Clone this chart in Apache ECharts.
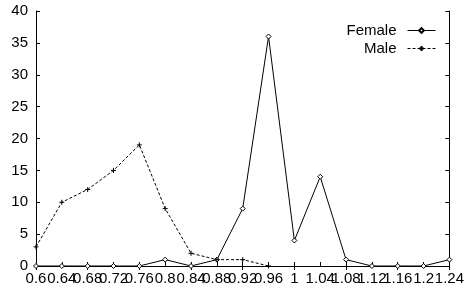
<!DOCTYPE html>
<html lang="en">
<head>
    <meta charset="UTF-8">
    <title>Female / Male</title>
    <script src="https://cdn.jsdelivr.net/npm/echarts@6/dist/echarts.min.js"></script>
    <style>
        html, body { margin: 0; padding: 0; background: #fff; }
        #chart { width: 467px; height: 289px; }
    </style>
</head>
<body>
<div id="chart"></div>
<script>
    // x categories
    const categories = ['0.6', '0.64', '0.68', '0.72', '0.76', '0.8', '0.84', '0.88', '0.92',
        '0.96', '1', '1.04', '1.08', '1.12', '1.16', '1.2', '1.24'];
    // series values
    const female = [0, 0, 0, 0, 0, 1, 0, 1, 9, 36, 4, 14, 1, 0, 0, 0, 1];
    const male = [3, 10, 12, 15, 19, 9, 2, 1, 1, 0];
    const yTicks = [0, 5, 10, 15, 20, 25, 30, 35, 40];

    const font = 'Liberation Sans, Arial, sans-serif';
    const plusPath = 'path://M0,-4L0,4M-4,0L4,0';

    const chart = echarts.init(document.getElementById('chart'));
    chart.setOption({
        animation: false,
        grid: { left: 36, right: 17, top: 11, bottom: 23 },
        legend: {
            right: 31, top: 23, orient: 'vertical', align: 'right', padding: 0,
            itemWidth: 28, itemHeight: 6, itemGap: 3,
            lineStyle: { width: 1 },
            textStyle: { fontFamily: font, fontSize: 15, color: '#000', padding: [0, 6, 0, 0] },
            data: ['Female', 'Male']
        },
        xAxis: [{
            type: 'category', data: categories, boundaryGap: false,
            axisLine: { lineStyle: { color: '#000', width: 1 } },
            axisTick: { inside: true, length: 4, alignWithLabel: true, lineStyle: { color: '#000' } },
            axisLabel: { color: '#000', fontFamily: font, fontSize: 15, margin: 5, interval: 0, hideOverlap: false },
            splitLine: { show: false }
        }, {
            type: 'category', data: categories, boundaryGap: false, position: 'top',
            axisLine: { lineStyle: { color: '#000', width: 1 } },
            axisTick: { inside: true, length: 4, lineStyle: { color: '#000' } },
            axisLabel: { show: false }
        }],
        yAxis: [{
            type: 'value', min: 0, max: 40, interval: 5,
            axisLine: { show: true, lineStyle: { color: '#000', width: 1 } },
            axisTick: { show: true, inside: true, length: 4, lineStyle: { color: '#000' } },
            axisLabel: { color: '#000', fontFamily: font, fontSize: 15, margin: 8,
                formatter: v => yTicks.includes(v) ? String(v) : '' },
            splitLine: { show: false }
        }, {
            type: 'value', min: 0, max: 40, interval: 5, position: 'right',
            axisLine: { show: true, lineStyle: { color: '#000', width: 1 } },
            axisTick: { show: true, inside: true, length: 4, lineStyle: { color: '#000' } },
            axisLabel: { show: false },
            splitLine: { show: false }
        }],
        series: [{
            name: 'Female', type: 'line', data: female,
            symbol: 'diamond', symbolSize: 5, showAllSymbol: true,
            itemStyle: { color: '#fff', borderColor: '#000', borderWidth: 1 },
            lineStyle: { color: '#000', width: 1 }
        }, {
            name: 'Male', type: 'line', data: male,
            symbol: plusPath, symbolSize: 5, showAllSymbol: true,
            itemStyle: { color: '#000', borderColor: '#000', borderWidth: 1 },
            lineStyle: { color: '#000', width: 1, type: [3, 2] }
        }]
    });
</script>
</body>
</html>
